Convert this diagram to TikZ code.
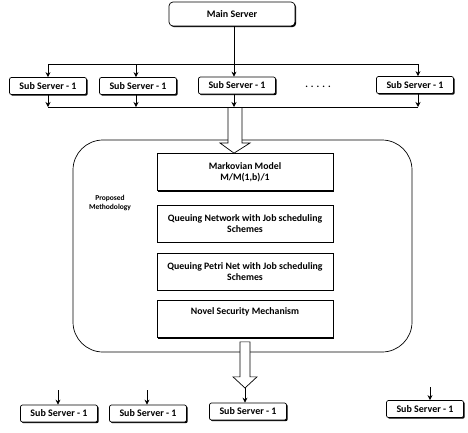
\documentclass[tikz,border=0pt]{standalone}
\usepackage{fontspec}
\setmainfont{Carlito}
\usetikzlibrary{arrows.meta,calc,positioning,shapes,arrows,shadows}

\begin{document}
\begin{tikzpicture}[x=1pt,y=-1pt, line width=0.7pt,
	serveur/.style={draw, rounded corners=2pt, minimum width=77pt, minimum height=17pt, inner sep=1pt,
		font=\fontsize{10}{10}\selectfont\bfseries,
		drop shadow={shadow xshift=1.2pt, shadow yshift=-1.2pt, fill=black, opacity=1}, fill=white},
	bloc/.style={draw, minimum width=176pt, minimum height=37pt, inner sep=2pt, align=center,
		font=\fontsize{9.8}{11}\selectfont\bfseries,
		drop shadow={shadow xshift=1.2pt, shadow yshift=-1.2pt, fill=black, opacity=1}, fill=white},
	->,>={Stealth[length=5pt,width=5pt]} % fleches
	]
	\useasboundingbox (0,0) rectangle (468,432);

	% Le serveur principal
	\node[serveur, minimum width=126pt, minimum height=24pt, rounded corners=4pt] (main) at (232,14) {Main Server};

	% Les sous-serveurs du haut
	\node[serveur] (s1) at (48,86) {Sub Server - 1};
	\node[serveur] (s2) at (138,86) {Sub Server - 1};
	\node[serveur] (s3) at (237,85.5) {Sub Server - 1};
	\node[serveur] (s4) at (415,85) {Sub Server - 1};
	\node[font=\fontsize{10}{10}\selectfont\bfseries] (dots) at (318,87) {. . . . .};

	% Les lignes de distribution
	\coordinate (t1) at (48,64);
	\coordinate (t2) at (136,64);
	\coordinate (t3) at (234,64);
	\coordinate (t4) at (418,64);
	\coordinate (b1) at (48,107);
	\coordinate (b2) at (136,107);
	\coordinate (b3) at (234,107);
	\coordinate (b4) at (418,107);
	\draw[-] (main.south -| t3) -- (t3);
	\draw[-] (t1) -- (t4);
	\draw[-] (b1) -- (b4);
	\foreach \i in {1,...,4} {
		\draw[->] (t\i) -- (t\i |- s\i.north);
		\draw[->] (t\i |- s\i.south) -- (b\i);
	}

	% Le bloc de la methodologie
	\node[draw, rounded corners=30pt, minimum width=339pt, minimum height=212pt] (meth) at (242.5,246) {};
	\node[font=\fontsize{7.5}{9}\selectfont\bfseries, align=center] (prop) at (110,203) {Proposed\\Methodology};

	\node[bloc] (markov) at (245,172) {Markovian Model\\M/M(1,b)/1};
	\node[bloc] (qn) at (245,223.5) {Queuing Network with Job scheduling\\Schemes};
	\node[bloc] (qpn) at (245,271.5) {Queuing Petri Net with Job scheduling\\Schemes};
	\node[bloc] (novel) at (245,319) {Novel Security Mechanism\\[4pt]~};

	% Fleche creuse vers le bloc
	\draw[-, fill=white] ($(b3)+(-6,1)$) -- ++(0,35) -- ++(-8,0) -- (markov.north -| b3) -- ($(b3)+(16,36)$) -- ++(-8,0) -- ++(0,-35);

	% Les sous-serveurs du bas
	\node[serveur] (r1) at (59,413.5) {Sub Server - 1};
	\node[serveur] (r2) at (148,413.5) {Sub Server - 1};
	\node[serveur] (r3) at (248,411.5) {Sub Server - 1};
	\node[serveur] (r4) at (425,409) {Sub Server - 1};

	% Fleche creuse de sortie
	\coordinate (sortie) at (245,388);
	\draw[-, fill=white] ($(novel.south)+(-5,4)$) -- ++(0,35) -- ++(-7,0) -- (sortie) -- ($(novel.south)+(12,39)$) -- ++(-7,0) -- ++(0,-35) -- cycle;
	\draw[->] (sortie) -- (sortie |- r3.north);

	% Fleches libres
	\coordinate (f1) at (58,390);
	\coordinate (f2) at (147,390);
	\coordinate (f4) at (430,387);
	\draw[->] (f1) -- (f1 |- r1.north);
	\draw[->] (f2) -- (f2 |- r2.north);
	\draw[->] (f4) -- (f4 |- r4.north);
\end{tikzpicture}
\end{document}
